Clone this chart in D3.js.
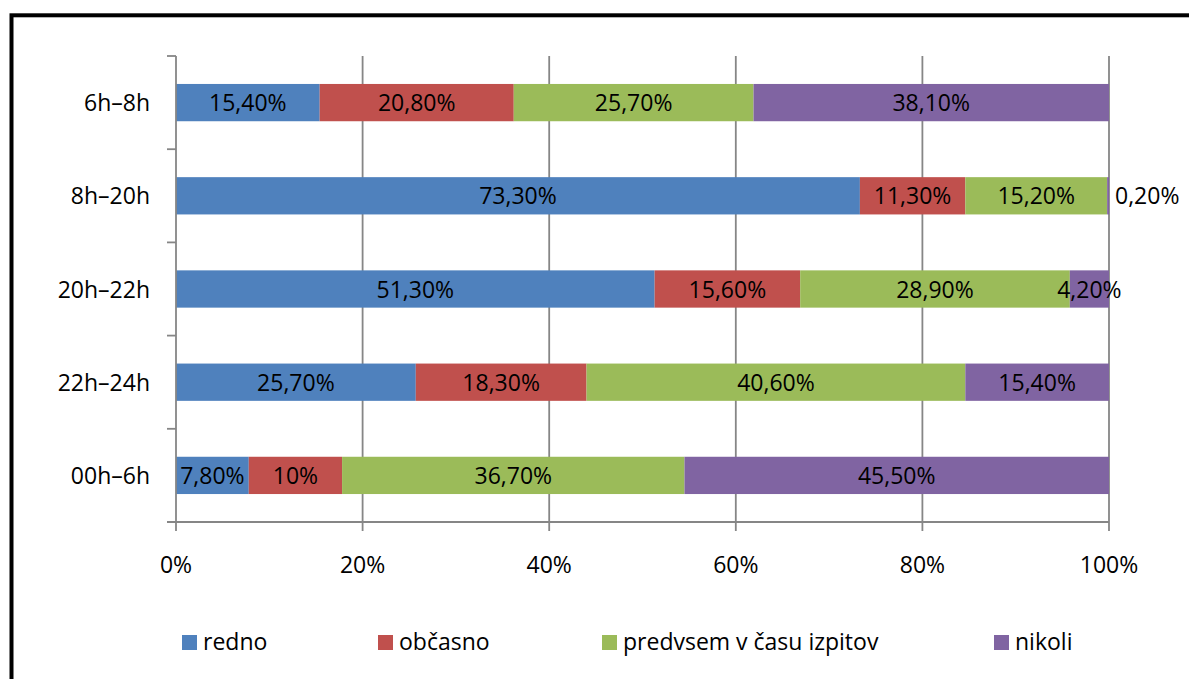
<!DOCTYPE html>
<html>
<head>
<meta charset="utf-8">
<script src="https://cdn.jsdelivr.net/npm/d3@7"></script>
<style>
  body { margin: 0; background: #fff; }
  text { font-family: "Open Sans", sans-serif; font-size: 23px; fill: #000; }
</style>
</head>
<body>
<script>
// categories top to bottom
var categories = ["6h–8h", "8h–20h", "20h–22h", "22h–24h", "00h–6h"];
var seriesNames = ["redno", "občasno", "predvsem v času izpitov", "nikoli"];
var seriesColors = ["#4F81BD", "#C0504D", "#9BBB59", "#8064A2"];

// percent values per series, same order as categories
var redno    = [15.4, 73.3, 51.3, 25.7, 7.8];
var obcasno  = [20.8, 11.3, 15.6, 18.3, 10];
var predvsem = [25.7, 15.2, 28.9, 40.6, 36.7];
var nikoli   = [38.1, 0.2, 4.2, 15.4, 45.5];

var xTicks = [0, 0.2, 0.4, 0.6, 0.8, 1];

var width = 1189, height = 679;

var svgContainer = d3.select("body").append("svg")
                     .attr("width", width)
                     .attr("height", height);

// outer frame (runs off the right and bottom edges)
svgContainer.append("rect")
            .attr("x", 11.5)
            .attr("y", 15.3)
            .attr("width", 1300)
            .attr("height", 800)
            .attr("fill", "none")
            .attr("stroke", "#000")
            .attr("stroke-width", 4);

var x = d3.scaleLinear().domain([0, 1]).range([176, 1109]);
var y = d3.scaleBand().domain(categories).range([56, 522])
          .paddingInner(0.6).paddingOuter(0.3);

var rows = categories.map(function(c, i) {
    return { cat: c, s0: redno[i] / 100, s1: obcasno[i] / 100, s2: predvsem[i] / 100, s3: nikoli[i] / 100 };
});
var stack = d3.stack().keys(["s0", "s1", "s2", "s3"]);
var layers = stack(rows);

var axisColor = "#868686";

// gridlines
svgContainer.append("g")
            .selectAll("line")
            .data(xTicks.slice(1))
            .enter()
            .append("line")
            .attr("x1", d => x(d)).attr("x2", d => x(d))
            .attr("y1", 56).attr("y2", 522)
            .attr("stroke", axisColor)
            .attr("stroke-width", 1.8);

// bars
var layerG = svgContainer.append("g")
                         .selectAll("g")
                         .data(layers)
                         .enter()
                         .append("g")
                         .attr("fill", (d, i) => seriesColors[i]);

layerG.selectAll("rect")
      .data(d => d)
      .enter()
      .append("rect")
      .attr("x", d => x(d[0]))
      .attr("y", d => y(d.data.cat))
      .attr("width", d => x(d[1]) - x(d[0]))
      .attr("height", y.bandwidth());

function fmt(v) {
    var p = v * 100;
    if (Math.abs(p - Math.round(p)) < 1e-9 && Math.round(p) % 1 === 0 && p >= 10 && p % 1 === 0 && String(p).indexOf(".") < 0) {
        return Math.round(p) + "%";
    }
    return p.toFixed(2).replace(".", ",") + "%";
}

// data labels
layerG.selectAll("text")
      .data(d => d)
      .enter()
      .append("text")
      .attr("x", function(d) {
          var v = d[1] - d[0];
          return v < 0.01 ? x(d[1]) + 6 : (x(d[0]) + x(d[1])) / 2;
      })
      .attr("y", d => y(d.data.cat) + y.bandwidth() / 2 + 8.5)
      .attr("text-anchor", d => (d[1] - d[0]) < 0.01 ? "start" : "middle")
      .attr("fill", "#000")
      .text(d => fmt(Math.round((d[1] - d[0]) * 1000) / 1000));

// left axis
svgContainer.append("line")
            .attr("x1", 176).attr("x2", 176)
            .attr("y1", 56).attr("y2", 522)
            .attr("stroke", axisColor).attr("stroke-width", 1.8);

var yEdges = categories.map(c => y(c) - y.step() * 0.3).concat([522]);
svgContainer.append("g")
            .selectAll("line")
            .data(yEdges)
            .enter()
            .append("line")
            .attr("x1", 167).attr("x2", 176)
            .attr("y1", d => d).attr("y2", d => d)
            .attr("stroke", axisColor).attr("stroke-width", 1.8);

svgContainer.append("g")
            .selectAll("text")
            .data(categories)
            .enter()
            .append("text")
            .attr("x", 150)
            .attr("y", d => y(d) + y.bandwidth() / 2 + 8.5)
            .attr("text-anchor", "end")
            .text(d => d);

// bottom axis
svgContainer.append("line")
            .attr("x1", 167).attr("x2", 1109)
            .attr("y1", 522).attr("y2", 522)
            .attr("stroke", axisColor).attr("stroke-width", 1.8);

svgContainer.append("g")
            .selectAll("line")
            .data(xTicks)
            .enter()
            .append("line")
            .attr("x1", d => x(d)).attr("x2", d => x(d))
            .attr("y1", 522).attr("y2", 531)
            .attr("stroke", axisColor).attr("stroke-width", 1.8);

svgContainer.append("g")
            .selectAll("text")
            .data(xTicks)
            .enter()
            .append("text")
            .attr("x", d => x(d))
            .attr("y", 573)
            .attr("text-anchor", "middle")
            .text(d3.format(".0%"));

// legend
var legendX = [182, 378, 602, 994];
var legend = svgContainer.append("g")
                         .selectAll("g")
                         .data(seriesNames)
                         .enter()
                         .append("g")
                         .attr("transform", (d, i) => "translate(" + legendX[i] + ",635)");

legend.append("rect")
      .attr("width", 15).attr("height", 15)
      .attr("fill", (d, i) => seriesColors[i]);

legend.append("text")
      .attr("x", 21)
      .attr("y", 15)
      .text(d => d);
</script>
</body>
</html>
